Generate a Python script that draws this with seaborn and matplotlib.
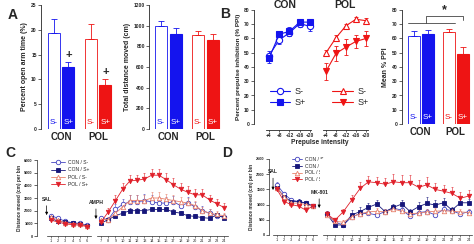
import numpy as np
import pandas as pd
import seaborn as sns
import matplotlib
matplotlib.use('Agg')
import matplotlib.pyplot as plt
from matplotlib.transforms import blended_transform_factory

sns.set_style('ticks')
plt.rcParams['font.family'] = ['Liberation Sans', 'DejaVu Sans']
plt.rcParams['axes.linewidth'] = 0.6

# ---- data ----
groups = ['CON', 'POL']
genos = ['S-', 'S+']

# A: open arm time / total distance (order CON S-, CON S+, POL S-, POL S+)
open_arm = [19.4, 12.4, 18.1, 8.9]
open_arm_sem = [2.8, 1.2, 3.0, 1.2]
distance = [995, 920, 905, 865]
distance_sem = [52, 56, 45, 53]

# B: prepulse inhibition
intensities = ['+4', '+8', '+12', '+16', '+20']
ppi_con_sm = [48, 59, 64, 70.5, 68.5]
ppi_con_sm_err = [3, 3, 2.5, 2.5, 3.5]
ppi_con_sp = [46, 63, 65, 71.5, 71.5]
ppi_con_sp_err = [3, 2.5, 3, 2.5, 2.5]
ppi_pol_sm = [50, 60.5, 69, 73.5, 72.5]
ppi_pol_sm_err = [2, 2, 1.5, 1.5, 2]
ppi_pol_sp = [37, 49.5, 54, 58, 60]
ppi_pol_sp_err = [6, 5.5, 5.5, 4.5, 5.5]
mean_ppi = [62, 63.3, 64.8, 49]
mean_ppi_sem = [3.5, 2.4, 1.6, 4.8]

# C: amphetamine, distance per bin (bins 1-24)
c_con_sm = [1600, 1400, 1150, 1050, 1000, 850,
            1400, 1300, 2100, 2500, 2700, 2700, 2800, 2700, 2600, 2600, 2700, 2400,
            2600, 2300, 2000, 1800, 1600, 1500]
c_con_sm_err = [150, 120, 100, 100, 100, 80,
                200, 200, 400, 450, 500, 500, 500, 500, 500, 450, 450, 400,
                450, 400, 350, 300, 250, 250]
c_con_sp = [1400, 1150, 1100, 1000, 950, 800,
            1000, 1300, 1600, 1800, 2000, 2000, 2000, 2100, 2100, 2100, 1900, 1800,
            1600, 1550, 1450, 1400, 1650, 1450]
c_con_sp_err = [120, 100, 80, 80, 80, 60,
                100, 150, 200, 200, 200, 200, 200, 200, 200, 200, 200, 200,
                150, 150, 150, 150, 150, 150]
c_pol_sm = [1500, 1250, 1050, 950, 950, 800,
            1300, 1300, 1800, 2300, 2800, 2800, 2800, 3000, 3000, 2900, 2800, 2700,
            2600, 2400, 2000, 1800, 1700, 1600]
c_pol_sm_err = [150, 120, 100, 100, 100, 80,
                200, 200, 350, 400, 400, 400, 400, 450, 450, 400, 400, 400,
                400, 350, 300, 300, 250, 250]
c_pol_sp = [1250, 1100, 950, 900, 850, 750,
            1100, 1900, 2800, 3700, 4350, 4400, 4500, 4800, 4800, 4450, 4050, 3700,
            3450, 3250, 3250, 2850, 2550, 2250]
c_pol_sp_err = [150, 120, 100, 100, 100, 80,
                200, 300, 400, 500, 500, 450, 450, 500, 500, 500, 500, 500,
                500, 450, 450, 400, 400, 350]

# D: MK-801, distance per bin (bins 1-24)
d_con_sm = [1650, 1350, 1150, 1100, 1060, 950,
            700, 420, 330, 600, 700, 710, 660, 770, 880, 820, 620, 740,
            770, 660, 850, 800, 690, 770]
d_con_sm_err = [80, 80, 70, 70, 70, 60,
                80, 60, 60, 100, 100, 100, 100, 100, 100, 100, 100, 100,
                100, 100, 100, 100, 100, 100]
d_con_sp = [1550, 1250, 1100, 1100, 1050, 950,
            700, 330, 330, 660, 770, 910, 1020, 770, 910, 1020, 770, 930,
            1040, 985, 1060, 820, 1060, 1060]
d_con_sp_err = [80, 80, 70, 70, 70, 60,
                100, 60, 60, 150, 150, 150, 120, 100, 120, 120, 100, 150,
                200, 150, 150, 100, 150, 120]
d_pol_sm = [1550, 1250, 1050, 1050, 1000, 950,
            650, 450, 420, 600, 700, 760, 780, 760, 850, 780, 700, 720,
            760, 780, 800, 780, 760, 740]
d_pol_sm_err = [80, 80, 70, 70, 70, 60,
                80, 60, 60, 100, 100, 100, 100, 100, 100, 100, 100, 100,
                100, 100, 100, 100, 100, 100]
d_pol_sp = [1500, 1100, 1000, 950, 820, 950,
            700, 490, 770, 1150, 1530, 1750, 1720, 1670, 1750, 1720, 1720, 1570,
            1650, 1500, 1440, 1370, 1210, 1280]
d_pol_sp_err = [80, 80, 70, 70, 70, 60,
                100, 80, 100, 150, 200, 200, 200, 200, 250, 250, 250, 250,
                250, 200, 200, 200, 200, 200]

BLUE = '#1414ee'
RED = '#ee1414'
NAVY = '#16167a'
CON_OPEN = '#4545c0'
POL_OPEN = '#e8806a'
POL_FILL = '#e0202a'
group_colors = [BLUE, RED]

W, H = 474, 244
fig = plt.figure(figsize=(W / 100, H / 100), dpi=100)


def rect(x0, y0, x1, y1):
    return [x0 / W, 1 - y1 / H, (x1 - x0) / W, (y1 - y0) / H]


def style_y(ax, ticks, fs=3.6):
    ax.set_yticks(ticks)
    ax.tick_params(axis='y', labelsize=fs, length=2, width=0.5, pad=1)
    for lab in ax.get_yticklabels():
        lab.set_fontweight('bold')
    sns.despine(ax=ax)


def bar_panel(ax, vals, sems, ylim, ticks, ylabel, gap, xlim):
    df = pd.DataFrame({'group': np.repeat(groups, 2), 'geno': genos * 2, 'val': vals})
    sns.barplot(data=df, x='group', y='val', hue='geno', order=groups, hue_order=genos,
                errorbar=None, gap=gap, ax=ax, legend=False, linewidth=0.8)
    tr = blended_transform_factory(ax.transData, ax.transAxes)
    bar_sets = list(ax.containers[:2])
    for h, cont in enumerate(bar_sets):
        for g, p in enumerate(cont):
            col = group_colors[g]
            i = g * 2 + h
            cx = p.get_x() + p.get_width() / 2
            if h == 0:
                p.set_facecolor('white')
                p.set_edgecolor(col)
                p.set_linewidth(0.6)
                tc = col
            else:
                p.set_facecolor(col)
                p.set_edgecolor(col)
                tc = 'white'
            ax.errorbar([cx], [vals[i]], yerr=[[0], [sems[i]]], fmt='none', ecolor=col,
                        elinewidth=0.6, capsize=2, capthick=0.6, zorder=1)
            ax.text(cx, 0.025, genos[h], transform=tr, ha='center', va='bottom',
                    fontsize=5.8, color=tc)
    ax.set_ylim(*ylim)
    ax.set_xlim(*xlim)
    style_y(ax, ticks)
    ax.spines['bottom'].set_visible(False)
    ax.set_xlabel('')
    ax.set_ylabel(ylabel, fontsize=5, fontweight='bold', labelpad=2)
    ax.tick_params(axis='x', length=0, pad=2.5)
    for lab in ax.get_xticklabels():
        lab.set_fontsize(7)
        lab.set_fontweight('bold')
    return bar_sets


# ---- A ----
axA1 = fig.add_axes(rect(41, 5, 115, 129))
barsA1 = bar_panel(axA1, open_arm, open_arm_sem, (0, 25), range(0, 26, 5),
                   'Percent open arm time (%)', 0.2, (-0.54, 1.46))
for g in range(2):
    p = barsA1[1][g]
    axA1.text(p.get_x() + p.get_width() / 2, open_arm[g * 2 + 1] + open_arm_sem[g * 2 + 1] + 0.4,
              '+', ha='center', va='bottom', fontsize=8, fontweight='bold')

axA2 = fig.add_axes(rect(149, 5, 222, 129))
bar_panel(axA2, distance, distance_sem, (0, 1200), range(0, 1201, 200),
          'Total distance moved (cm)', 0.2, (-0.51, 1.44))

# ---- B ----
axB1 = fig.add_axes(rect(254, 10, 316, 124))
axB2 = fig.add_axes(rect(318, 10, 372, 124))
pos = np.arange(len(intensities))
ppi_series = [
    (axB1, 'S-', ppi_con_sm, ppi_con_sm_err, BLUE, 'o', False),
    (axB1, 'S+', ppi_con_sp, ppi_con_sp_err, BLUE, 's', True),
    (axB2, 'S-', ppi_pol_sm, ppi_pol_sm_err, RED, '^', False),
    (axB2, 'S+', ppi_pol_sp, ppi_pol_sp_err, RED, 'v', True),
]
for ax, lab, v, e, col, mk, filled in ppi_series:
    ax.errorbar(pos, v, yerr=e, fmt='none', ecolor=col, elinewidth=0.6, capsize=1.5,
                capthick=0.6, zorder=1)
    sns.lineplot(x=pos, y=v, ax=ax, color=col, marker=mk, markersize=4.5,
                 markerfacecolor=col if filled else 'white', markeredgecolor=col,
                 markeredgewidth=0.8, linewidth=0.8, label=lab, legend=False)
for ax, title, bounds in ((axB1, 'CON', (-0.3, 4.1)), (axB2, 'POL', (-0.3, 4.2))):
    ax.set_ylim(0, 80)
    style_y(ax, range(0, 81, 10))
    ax.spines['bottom'].set_position(('outward', 4))
    ax.spines['bottom'].set_bounds(*bounds)
    ax.set_xticks(pos)
    ax.set_xticklabels(intensities, fontsize=3.5, fontweight='bold')
    ax.tick_params(axis='x', length=1.5, width=0.5, pad=1)
    ax.set_title(title, fontsize=7.5, fontweight='bold', pad=1)
    ax.legend(loc='upper left', bbox_to_anchor=(0.18, 0.36), frameon=False, fontsize=6.5,
              handlelength=2.3, handletextpad=0.5, labelspacing=0.15, borderpad=0)
axB1.set_xlim(-1.46, 4.59)
axB2.set_xlim(-0.8, 4.6)
axB2.spines['left'].set_visible(False)
axB2.set_yticks([])
axB1.set_ylabel('Percent prepulse inhibition (% PPI)', fontsize=4.6, fontweight='bold', labelpad=2)
fig.text(320 / W, 1 - 142 / H, 'Prepulse intensity', ha='center', va='center',
         fontsize=4.8, fontweight='bold')

axB3 = fig.add_axes(rect(402, 10, 472, 124))
barsB3 = bar_panel(axB3, mean_ppi, mean_ppi_sem, (0, 80), range(0, 81, 10),
                   'Mean % PPI', 0.15, (-0.53, 1.47))
c0 = barsB3[0][0]
p1 = barsB3[0][1]
q1 = barsB3[1][1]
x_left = c0.get_x()
x_right = p1.get_x() + p1.get_width()
x_mid = (x_left + x_right) / 2 - 0.15
x_sp = q1.get_x() + q1.get_width() / 2
axB3.plot([x_left, x_right], [71, 71], color='#444444', lw=0.6)
axB3.plot([x_mid, x_mid, x_sp, x_sp], [71, 76, 76, 73], color='#444444', lw=0.6)
axB3.text((x_mid + x_sp) / 2, 76, '*', ha='center', va='bottom', fontsize=9, fontweight='bold')


# ---- C & D ----
def time_panel(ax_l, ax_r, series, ylim, ticks, xl, xr, bl, br):
    bins = np.arange(1, 25)
    for lab, v, e, col, mk, filled in series:
        v = np.array(v)
        e = np.array(e)
        for ax, sl in ((ax_l, slice(0, 6)), (ax_r, slice(6, None))):
            ax.errorbar(bins[sl], v[sl], yerr=[np.zeros(len(v[sl])), e[sl]], fmt='none',
                        ecolor=col, elinewidth=0.4, capsize=1.0, capthick=0.4, zorder=1)
            sns.lineplot(x=bins[sl], y=v[sl], ax=ax, color=col, marker=mk, markersize=3.2,
                         markerfacecolor=col if filled else 'white', markeredgecolor=col,
                         markeredgewidth=0.6, linewidth=0.6,
                         label=lab if ax is ax_l else None, legend=False)
    for ax, xlim, b, bl_ in ((ax_l, xl, bl, bins[:6]), (ax_r, xr, br, bins[6:])):
        ax.set_ylim(*ylim)
        ax.set_xlim(*xlim)
        style_y(ax, ticks, fs=2.8)
        ax.spines['bottom'].set_bounds(*b)
        ax.spines['bottom'].set_linewidth(0.5)
        ax.set_xticks(bl_)
        ax.set_xticklabels([str(b_) for b_ in bl_], fontsize=2.8)
        ax.tick_params(axis='x', length=1.2, width=0.4, pad=1)
        ax.spines['left'].set_linewidth(0.5)
    ax_r.spines['left'].set_visible(False)
    ax_r.set_yticks([])
    ax_l.set_ylabel('Distance moved (cm) per bin', fontsize=3.4, fontweight='bold', labelpad=1.5)


legend_labels = ['CON / S-', 'CON / S+', 'POL / S-', 'POL / S+']
axC1 = fig.add_axes(rect(37, 160, 92, 236))
axC2 = fig.add_axes(rect(94, 160, 230, 236))
time_panel(axC1, axC2, [
    (legend_labels[0], c_con_sm, c_con_sm_err, CON_OPEN, 'o', False),
    (legend_labels[1], c_con_sp, c_con_sp_err, NAVY, 's', True),
    (legend_labels[2], c_pol_sm, c_pol_sm_err, POL_OPEN, '^', False),
    (legend_labels[3], c_pol_sp, c_pol_sp_err, POL_FILL, 'v', True),
], (0, 6000), range(0, 6001, 1000), (-0.94, 6.7), (6.03, 24.83), (0.5, 6.5), (6.4, 24.5))
axC1.legend(loc='upper left', bbox_to_anchor=(0.2, 1.03), frameon=False, fontsize=3.6,
            handlelength=2.8, handletextpad=0.6, labelspacing=0.45, borderpad=0)

axD1 = fig.add_axes(rect(269, 159, 317, 235))
axD2 = fig.add_axes(rect(320, 159, 472, 235))
time_panel(axD1, axD2, [
    (legend_labels[0], d_con_sm, d_con_sm_err, CON_OPEN, 'o', False),
    (legend_labels[1], d_con_sp, d_con_sp_err, NAVY, 's', True),
    (legend_labels[2], d_pol_sm, d_pol_sm_err, POL_OPEN, '^', False),
    (legend_labels[3], d_pol_sp, d_pol_sp_err, POL_FILL, 'v', True),
], (0, 2500), range(0, 2501, 500), (-0.11, 6.56), (6.2, 24.4), (0.5, 6.5), (6.5, 24.4))
axD1.legend(loc='upper left', bbox_to_anchor=(0.42, 1.06), frameon=False, fontsize=3.6,
            handlelength=2.0, handletextpad=0.6, labelspacing=0.35, borderpad=0)

arrow = dict(arrowstyle='-|>', lw=0.5, color='black', mutation_scale=4, shrinkA=0.5, shrinkB=0)
axC1.annotate('SAL', xy=(0.4, 1650), xytext=(0.4, 2700), ha='center', va='bottom',
              fontsize=3.6, fontweight='bold', arrowprops=arrow)
axC2.annotate('AMPH', xy=(6.3, 1350), xytext=(6.3, 2450), ha='center', va='bottom',
              fontsize=3.6, fontweight='bold', arrowprops=arrow, annotation_clip=False)
axD1.annotate('SAL', xy=(0.45, 1480), xytext=(0.45, 2000), ha='center', va='bottom',
              fontsize=3.6, fontweight='bold', arrowprops=arrow)
axD2.annotate('MK-801', xy=(6.1, 890), xytext=(6.1, 1320), ha='center', va='bottom',
              fontsize=3.6, fontweight='bold', arrowprops=arrow, annotation_clip=False)

# panel letters
for letter, x, y in (('A', 8, 19), ('B', 220, 18), ('C', 5, 157), ('D', 222, 157)):
    fig.text(x / W, 1 - y / H, letter, fontsize=10, fontweight='bold', ha='left', va='baseline')

fig.savefig('out.png', dpi=100)
